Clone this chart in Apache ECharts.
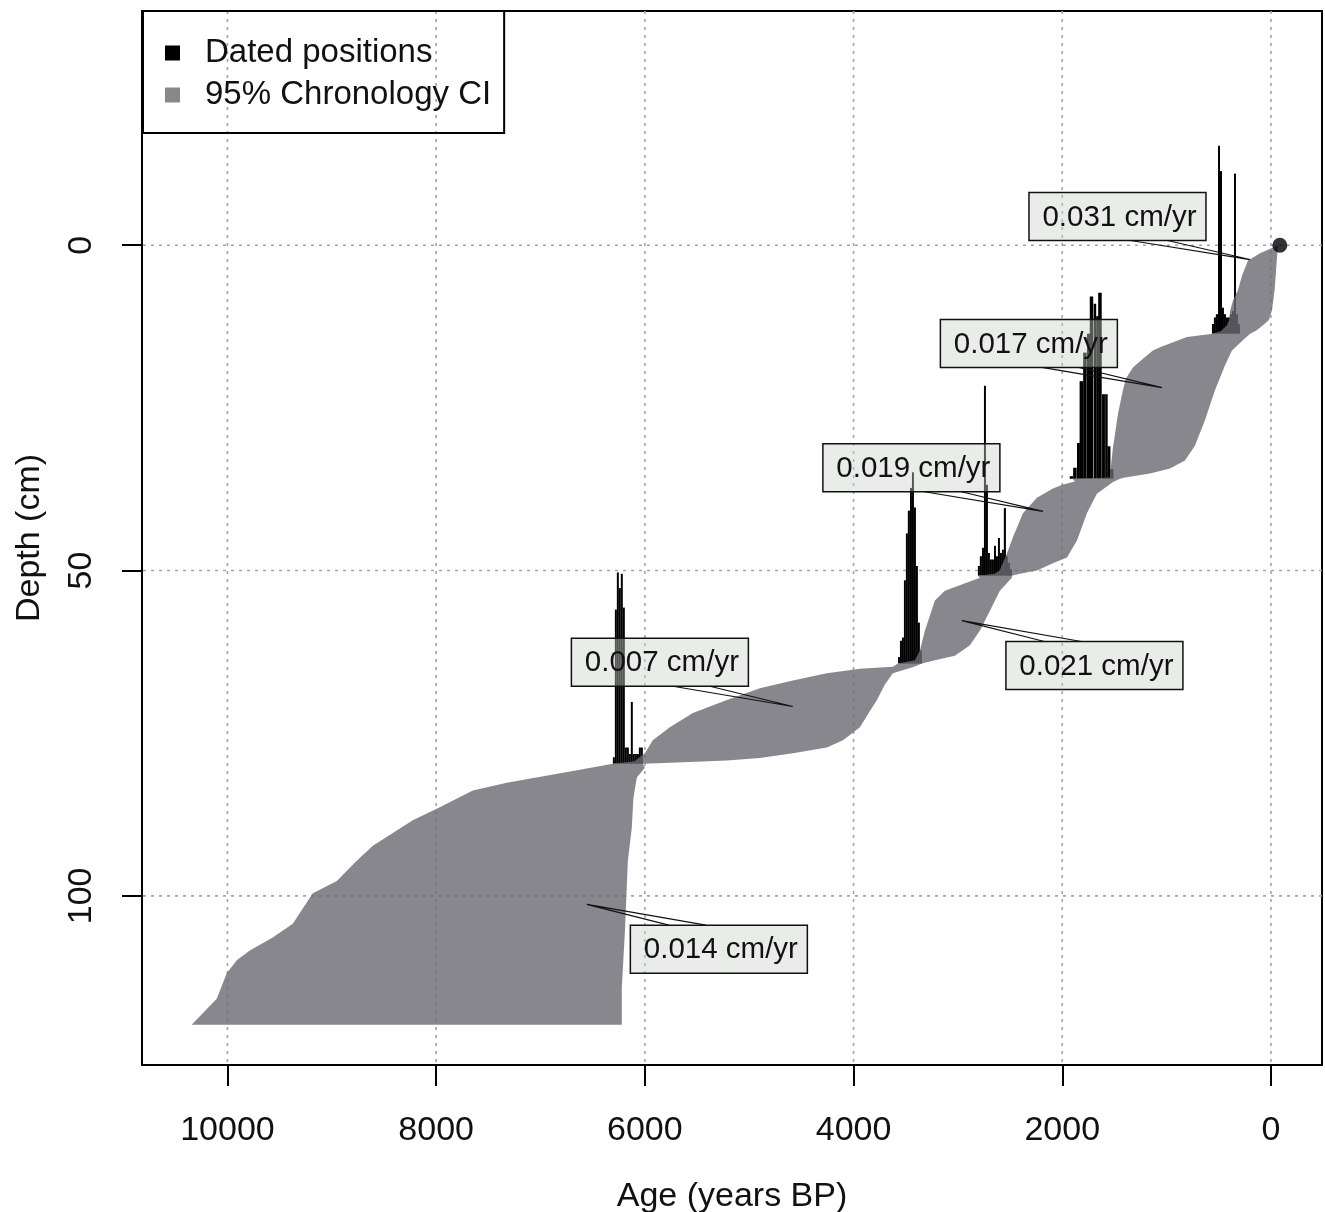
<!DOCTYPE html>
<html><head><meta charset="utf-8">
<script src="https://cdn.jsdelivr.net/npm/echarts@6/dist/echarts.min.js"></script>
<style>html,body{margin:0;padding:0;background:#fff}#c{width:1325px;height:1212px}</style>
</head><body><div id="c"></div>
<script>
// ---------- data ----------
const xTicks = [0, 2000, 4000, 6000, 8000, 10000];
const yTicks = [0, 50, 100];
const xMin = -489, xMax = 10819, yMin = -36, yMax = 126;

const surfacePoint = [-85, 0];

// 95% CI band: younger bound and older bound, [age, depth]
const bandYoung = [[-70,0],[-62,1],[-55,2.5],[-45,4.7],[-35,6.9],[-22,8.5],[-10,10],[20,11.5],[77,12.3],[140,13.1],[200,13.6],[249,14.3],[374,16.2],[441,18.5],[537,22.3],[633,26.9],[728,30.8],[824,33.1],[968,34.3],[1160,35.1],[1399,35.7],[1447,35.9],[1514,36.4],[1668,38.2],[1764,41.2],[1859,45.4],[1955,48.0],[2090,48.9],[2243,50.0],[2406,50.5],[2483,50.8],[2483,51.1],[2598,53.1],[2693,56.2],[2789,59.2],[2885,61.5],[3029,63.1],[3221,63.8],[3345,64.3],[3420,64.8],[3623,65.8],[3700,67.5],[3776,69.9],[3860,72],[3939,74.1],[4102,76.1],[4256,77.2],[4582,78.1],[4898,78.8],[5214,79.2],[5693,79.5],[6019,79.7],[6000,80.3],[6077,81.8],[6110,85],[6125,89.5],[6163,94.6],[6192,105.8],[6221,114.1],[6221,119.8]];
const bandOld = [[-70,0],[100,1.2],[220,2.35],[278,4.7],[316,6.9],[364,8.5],[390,10],[403,11.6],[422,12.3],[480,13.2],[556,13.6],[805,14.1],[1064,15.7],[1131,16.2],[1230,17.5],[1323,18.8],[1390,20.5],[1419,22.3],[1466,25.9],[1490,28.5],[1514,31.1],[1530,33.4],[1543,35.7],[1900,35.9],[1880,36.3],[2000,36.8],[2090,37.4],[2243,38.8],[2377,41.2],[2473,44.9],[2530,47.4],[2600,50.0],[2650,50.5],[2808,50.8],[2789,51.1],[3125,53.1],[3221,54.6],[3268,56.9],[3316,59.2],[3364,62.3],[3412,63.8],[3575,64.3],[3623,64.8],[3939,65.1],[4256,65.8],[4582,66.9],[4898,68.1],[5214,69.9],[5540,71.9],[5761,74.1],[5924,76.1],[6000,78.1],[6100,79.3],[6307,79.7],[6690,80.8],[7323,82.6],[7649,83.8],[7965,86.4],[8224,88.4],[8607,92.3],[8761,94.6],[8952,97.7],[9182,99.6],[9374,104.3],[9566,106.4],[9786,108.4],[9911,109.9],[10007,111.9],[10103,115.8],[10343,119.8]];

// dated positions: base depth, ages, density heights (cm)
const date1Depth = 13.6;
const date1Ages = [556,537,518,498,479,460,441,422,403,383,364,345,326,307];
const date1Heights = [1.5,2.5,3,28.9,25,4,3,2.5,2.5,3,3.5,24.6,3,1.5];
const date2Depth = 35.9;
const date2Ages = [1912,1879,1845,1817,1783,1749,1720,1687,1663,1639,1605,1577,1553,1524];
const date2Heights = [0.4,1.7,5.5,15,19.4,22.3,28,26.9,25,28.6,13,13,5,1.5];
const date3Depth = 50.8;
const date3Ages = [2799,2780,2760,2741,2722,2703,2684,2665,2645,2626,2607,2588,2569,2550,2530,2511,2492];
const date3Heights = [1.5,3,4.3,29.2,14,3.5,2.5,2.5,4.6,3,5.8,3.5,4,10.4,3,2,1];
const date4Depth = 64.3;
const date4Ages = [3565,3546,3527,3508,3489,3470,3450,3431,3412,3393,3374,3355];
const date4Heights = [1,3.5,4,12.8,20,23.5,27,29.4,24,15,6.3,2];
const date5Depth = 79.7;
const date5Ages = [6297,6278,6259,6240,6221,6202,6182,6163,6144,6125,6106,6086,6067,6048,6029];
const date5Heights = [1,23.7,29.4,27,29.2,24,2.5,2.5,1.5,9.5,1.5,1.5,1.5,2.5,2.5];

// accumulation-rate labels
const rateText = ['0.031 cm/yr','0.017 cm/yr','0.019 cm/yr','0.021 cm/yr','0.007 cm/yr','0.014 cm/yr'];
const rateLabelAge = [1471, 2320, 3446, 1692, 5856, 5291];
const rateLabelDepth = [-4.41, 15.1, 34.2, 64.6, 64.1, 108.2];
const ratePointAge = [201, 1045, 2185, 2962, 4582, 6556];
const ratePointDepth = [2.2, 21.9, 40.9, 57.7, 70.9, 101.3];

// ---------- build ----------
const FONT = '"Liberation Sans", Arial, Helvetica, sans-serif';
const histData = [];
[[date1Depth,date1Ages,date1Heights],[date2Depth,date2Ages,date2Heights],[date3Depth,date3Ages,date3Heights],[date4Depth,date4Ages,date4Heights],[date5Depth,date5Ages,date5Heights]].forEach(([d, ages, hs]) => {
  ages.forEach((a, i) => {
    const nb = i < ages.length - 1 ? Math.abs(ages[i+1] - a) : Math.abs(a - ages[i-1]);
    histData.push([a, d, hs[i], nb]);
  });
});

const gridData = xTicks.map(v => [v, 0]).concat(yTicks.map(v => [v, 1]));

const chart = echarts.init(document.getElementById('c'), null, {renderer: 'canvas'});
chart.setOption({
  animation: false,
  backgroundColor: '#fff',
  grid: {left: 142, right: 3, top: 11, bottom: 147, show: true, borderColor: '#000', borderWidth: 2,
    backgroundColor: 'transparent', containLabel: false, outerBoundsMode: 'none'},
  xAxis: {
    type: 'value', inverse: true, min: xMin, max: xMax,
    name: 'Age (years BP)', nameLocation: 'middle', nameGap: 115,
    nameTextStyle: {fontSize: 34, fontFamily: FONT, color: '#111'},
    axisLine: {show: true, onZero: false, lineStyle: {color: '#000', width: 2}},
    axisTick: {show: true, length: 21, lineStyle: {color: '#000', width: 2}, customValues: xTicks},
    axisLabel: {fontSize: 34, fontFamily: FONT, color: '#111', margin: 49, customValues: xTicks,
      formatter: v => String(v)},
    splitLine: {show: false}
  },
  yAxis: {
    type: 'value', inverse: true, min: yMin, max: yMax,
    name: 'Depth (cm)', nameLocation: 'middle', nameGap: 95, nameRotate: 90,
    nameTextStyle: {fontSize: 34, fontFamily: FONT, color: '#111'},
    axisLine: {show: true, onZero: false, lineStyle: {color: '#000', width: 2}},
    axisTick: {show: true, length: 20, lineStyle: {color: '#000', width: 2}, customValues: yTicks},
    axisLabel: {fontSize: 34, fontFamily: FONT, color: '#111', margin: 43, rotate: 90, customValues: yTicks,
      formatter: v => String(v)},
    splitLine: {show: false}
  },
  legend: {
    left: 143, top: 11, orient: 'vertical',
    data: [{name: 'Dated positions', icon: 'rect'}, {name: '95% Chronology CI', icon: 'rect'}],
    itemWidth: 15, itemHeight: 15, itemGap: 2,
    padding: [22, 13, 18, 22],
    backgroundColor: 'transparent', borderColor: '#000', borderWidth: 2, borderRadius: 0,
    textStyle: {fontSize: 33, fontFamily: FONT, color: '#111', lineHeight: 40, padding: [0, 0, 0, 20]},
    selectedMode: false
  },
  series: [
    {
      type: 'custom', name: 'grid', z: 1, silent: true, data: gridData,
      renderItem: (params, api) => {
        const v = api.value(0), dir = api.value(1);
        let p1, p2;
        if (dir === 0) { p1 = api.coord([v, yMin]); p2 = api.coord([v, yMax]); }
        else { p1 = api.coord([xMin, v]); p2 = api.coord([xMax, v]); }
        return {type: 'line', shape: {x1: p1[0], y1: p1[1], x2: p2[0], y2: p2[1]},
          style: {stroke: '#9ea6ad', lineWidth: 1.6, lineDash: [3, 5]}};
      }
    },
    {
      type: 'custom', name: 'Dated positions', z: 2, itemStyle: {color: '#000'}, data: histData,
      renderItem: (params, api) => {
        const a = api.value(0), d = api.value(1), h = api.value(2), w = api.value(3);
        const p1 = api.coord([a - w/2, d]);
        const p2 = api.coord([a + w/2, d - h]);
        const x = Math.min(p1[0], p2[0]), y = Math.min(p1[1], p2[1]);
        return {type: 'rect', shape: {x: x, y: y, width: Math.max(1, Math.abs(p2[0]-p1[0])), height: Math.abs(p2[1]-p1[1])},
          style: {fill: '#000'}};
      }
    },
    {
      type: 'custom', name: '95% Chronology CI', z: 3, itemStyle: {color: '#88878d'}, data: [[0, 0]],
      renderItem: (params, api) => {
        const pts = bandYoung.map(p => api.coord(p)).concat(bandOld.slice().reverse().map(p => api.coord(p)));
        return {type: 'polygon', shape: {points: pts}, style: {fill: 'rgba(106,105,113,0.8)'}};
      }
    },
    {
      type: 'scatter', name: 'surface', z: 4, data: [surfacePoint], symbol: 'circle', symbolSize: 15,
      itemStyle: {color: '#000'}, silent: true
    },
    {
      type: 'custom', name: 'rates', z: 5, silent: true,
      data: rateText.map((t, i) => [rateLabelAge[i], rateLabelDepth[i], ratePointAge[i], ratePointDepth[i]]),
      renderItem: (params, api) => {
        const i = params.dataIndex;
        const c = api.coord([api.value(0), api.value(1)]);
        const p = api.coord([api.value(2), api.value(3)]);
        const w = 177, h = 48;
        const dirX = p[0] > c[0] ? 1 : -1;
        const edgeY = p[1] > c[1] ? c[1] + h/2 : c[1] - h/2;
        const b1 = [c[0] + dirX*13, edgeY], b2 = [c[0] + dirX*50, edgeY];
        return {type: 'group', children: [
          {type: 'rect', shape: {x: c[0]-w/2, y: c[1]-h/2, width: w, height: h},
            style: {fill: 'rgba(205,210,205,0.42)', stroke: '#111', lineWidth: 1.5}},
          {type: 'polyline', shape: {points: [b1, p, b2]}, style: {stroke: '#111', lineWidth: 1.2, fill: null}},
          {type: 'text', style: {text: rateText[i], x: c[0] + 2, y: c[1] + 1, align: 'center', verticalAlign: 'middle',
            font: '29.5px ' + FONT, fill: '#111'}}
        ]};
      }
    }
  ]
});
</script></body></html>
